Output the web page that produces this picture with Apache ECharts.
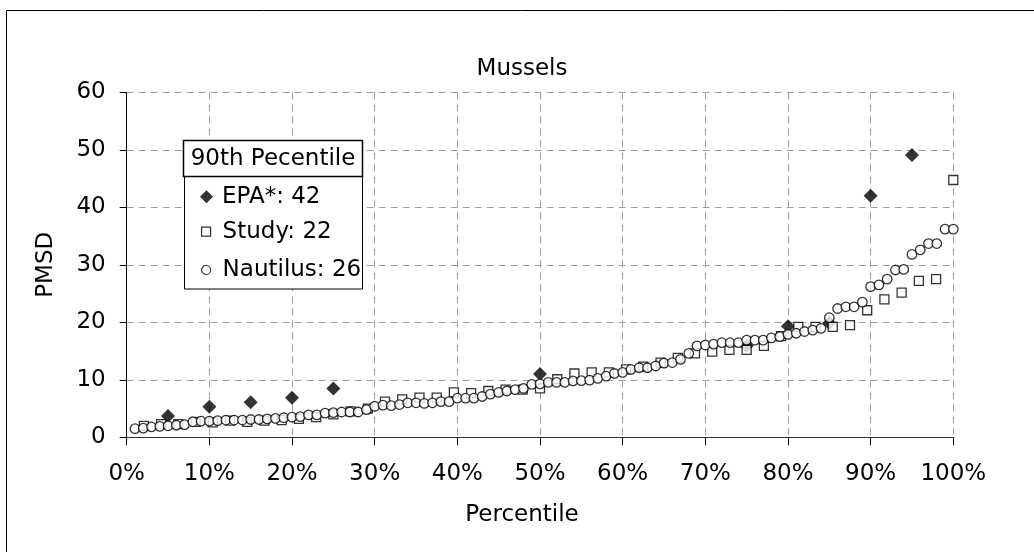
<!DOCTYPE html>
<html><head><meta charset="utf-8">
<script src="https://cdn.jsdelivr.net/npm/echarts@6/dist/echarts.min.js"></script>
<style>html,body{margin:0;padding:0;background:#fff}#c{width:1034px;height:552px}</style>
</head><body><div id="c"></div>
<script>
// ---- data ----
const chartTitle = 'Mussels';
const xAxisTitle = 'Percentile';
const yAxisTitle = 'PMSD';
const legendHeader = '90th Pecentile';
const seriesNames = ['EPA*', 'Study', 'Nautilus'];
const p90Values = [42, 22, 26];
const xTicks = [0, 10, 20, 30, 40, 50, 60, 70, 80, 90, 100];
const yTicks = [0, 10, 20, 30, 40, 50, 60];

const epaPct = [5, 10, 15, 20, 25, 50, 75, 80, 85, 90, 95];
const epaVals = [3.7, 5.3, 6.1, 6.9, 8.5, 11.0, 15.9, 19.3, 19.9, 42, 49.1];

const studyVals = [2.0, 2.3, 2.3, 2.7, 2.6, 2.9, 2.7, 2.9, 3.0, 3.2,
  3.5, 4.0, 4.5, 5.0, 6.2, 6.6, 6.9, 6.9, 7.8, 7.7,
  8.05, 8.3, 8.3, 8.5, 10.1, 11.1, 11.3, 11.3, 11.8, 12.3,
  13.0, 13.8, 14.6, 14.9, 15.2, 15.2, 15.9, 17.6, 19.2, 19.2,
  19.2, 19.5, 22.1, 24.0, 25.15, 27.2, 27.5, 44.75];

const nautilusVals = [1.5, 1.6, 1.8, 1.9, 2.0, 2.1, 2.2, 2.7, 2.8, 2.8,
  2.9, 3.0, 3.0, 3.0, 3.1, 3.1, 3.2, 3.3, 3.4, 3.5,
  3.6, 3.9, 3.9, 4.2, 4.3, 4.4, 4.4, 4.4, 4.8, 5.4,
  5.6, 5.5, 5.7, 6.0, 6.0, 5.9, 6.0, 6.2, 6.2, 6.8,
  6.8, 6.8, 7.1, 7.5, 7.8, 8.05, 8.3, 8.5, 9.2, 9.3,
  9.55, 9.55, 9.55, 9.8, 9.85, 9.95, 10.25, 10.65, 11.1, 11.3,
  11.8, 12.1, 12.1, 12.4, 12.9, 13.0, 13.55, 14.6, 15.9, 16.05,
  16.2, 16.45, 16.45, 16.45, 16.9, 16.9, 16.9, 17.3, 17.5, 17.9,
  18.1, 18.4, 18.65, 18.95, 20.8, 22.4, 22.7, 22.7, 23.5, 26.2,
  26.5, 27.5, 29.1, 29.2, 31.8, 32.6, 33.7, 33.7, 36.2, 36.2];

// ---- build ----
const FONT = 'DejaVu Sans';
const FS = 23;
const rankPct = (i, n) => (i + 1) / n * 100;
const epaData = epaPct.map((p, i) => [p, epaVals[i]]);
const studyData = studyVals.map((v, i) => [rankPct(i, studyVals.length), v]);
const nautilusData = nautilusVals.map((v, i) => [rankPct(i, nautilusVals.length), v]);
const p90Label = name => name + ': ' + p90Values[seriesNames.indexOf(name)];

const chart = echarts.init(document.getElementById('c'), null, {renderer: 'canvas'});
const legendText = {fontFamily: FONT, fontSize: FS, color: '#000', lineHeight: 24};
chart.setOption({
  animation: false,
  backgroundColor: '#fff',
  title: {
    text: chartTitle, left: 522, top: 58, textAlign: 'center', padding: 0,
    textStyle: {fontFamily: FONT, fontSize: FS, fontWeight: 'normal', color: '#000'}
  },
  grid: {left: 126.7, right: 80.7, top: 92.3, bottom: 114.7, containLabel: false},
  xAxis: {
    type: 'value', min: 0, max: 100, interval: 10,
    name: xAxisTitle, nameLocation: 'middle', nameGap: 66,
    nameTextStyle: {fontFamily: FONT, fontSize: FS, color: '#000', padding: [0, 36, 0, 0]},
    axisLine: {show: true, onZero: false, lineStyle: {color: '#333', width: 1}},
    axisTick: {show: true, length: 8, lineStyle: {color: '#000'}},
    axisLabel: {margin: 25, fontFamily: FONT, fontSize: FS, color: '#000',
      formatter: v => xTicks.includes(v) ? v + '%' : ''},
    splitLine: {show: true, lineStyle: {color: '#a0a0a0', type: [7, 5], width: 1}}
  },
  yAxis: {
    type: 'value', min: 0, max: 60, interval: 10,
    name: yAxisTitle, nameLocation: 'middle', nameGap: 69,
    nameTextStyle: {fontFamily: FONT, fontSize: FS, color: '#000'},
    axisLine: {show: true, lineStyle: {color: '#000', width: 1}},
    axisTick: {show: true, length: 7, lineStyle: {color: '#000'}},
    axisLabel: {margin: 21, fontFamily: FONT, fontSize: FS, color: '#000',
      formatter: v => yTicks.includes(v) ? String(v) : ''},
    splitLine: {show: true, lineStyle: {color: '#a0a0a0', type: [7, 5], width: 1}}
  },
  legend: [
    {data: [seriesNames[0]], orient: 'vertical', left: 200, top: 184.7, padding: 0, z: 50,
     icon: 'diamond', itemWidth: 13, itemHeight: 13, formatter: p90Label,
     itemStyle: {color: '#000', borderWidth: 0},
     textStyle: Object.assign({padding: [0, 0, 0, 4]}, legendText)},
    {data: [seriesNames[1]], orient: 'vertical', left: 201, top: 219.7, padding: 0, z: 50,
     icon: 'rect', itemWidth: 9, itemHeight: 9, formatter: p90Label,
     itemStyle: {color: '#fff', borderColor: '#000', borderWidth: 1.2},
     textStyle: Object.assign({padding: [0, 0, 0, 7]}, legendText)},
    {data: [seriesNames[2]], orient: 'vertical', left: 201, top: 258, padding: 0, z: 50,
     icon: 'circle', itemWidth: 9, itemHeight: 9, formatter: p90Label,
     itemStyle: {color: '#fff', borderColor: '#000', borderWidth: 1.2},
     textStyle: Object.assign({padding: [0, 0, 0, 7]}, legendText)}
  ],
  graphic: [
    {type: 'line', silent: true, shape: {x1: 6.5, y1: 10.5, x2: 6.5, y2: 552}, style: {stroke: '#000', lineWidth: 1}},
    {type: 'line', silent: true, shape: {x1: 6.5, y1: 10.5, x2: 1034, y2: 10.5}, style: {stroke: '#000', lineWidth: 1}},
    {type: 'rect', silent: true, z: 10, shape: {x: 184.5, y: 176.5, width: 178, height: 112.5},
     style: {fill: '#fff', stroke: '#000', lineWidth: 1}},
    {type: 'rect', silent: true, z: 11, shape: {x: 183.5, y: 140.5, width: 179, height: 36},
     style: {fill: '#fff', stroke: '#000', lineWidth: 1.5}},
    {type: 'text', silent: true, z: 12, x: 273, y: 159,
     style: {text: legendHeader, font: FS + 'px "' + FONT + '"', fill: '#000', align: 'center', verticalAlign: 'middle'}}
  ],
  series: [
    {name: seriesNames[0], type: 'scatter', data: epaData, symbol: 'diamond', symbolSize: 14,
     itemStyle: {color: '#000', borderWidth: 0}, z: 2},
    {name: seriesNames[1], type: 'scatter', data: studyData, symbol: 'rect', symbolSize: 9,
     itemStyle: {color: '#fff', borderColor: '#000', borderWidth: 1.3}, z: 3},
    {name: seriesNames[2], type: 'scatter', data: nautilusData, symbol: 'circle', symbolSize: 9.5,
     itemStyle: {color: '#fff', borderColor: '#000', borderWidth: 1.3}, z: 4}
  ]
});
</script>
</body></html>
